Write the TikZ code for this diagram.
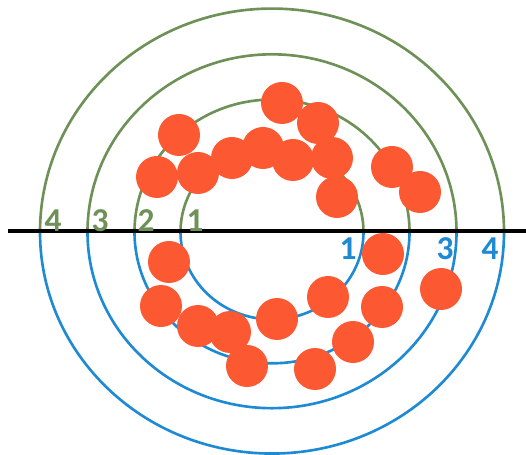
\documentclass[tikz,border=0pt]{standalone}
\usepackage{xcolor}
\usepackage{fontspec}
\usepackage{tikz}
\setsansfont{Carlito}
\definecolor{ringgreen}{HTML}{6E9157}
\definecolor{ringblue}{HTML}{1F8AD4}
\definecolor{dotred}{HTML}{FC5832}
\usetikzlibrary{positioning}

\begin{document}
\begin{tikzpicture}[x=0.02cm,y=0.02cm,
  ring/.style={line width=1.5pt},
  dot/.style={circle,fill=dotred,minimum size=0.84cm,inner sep=0pt},
  greenlabel/.style={font=\sffamily\bfseries\fontsize{19}{21}\selectfont,text=ringgreen},
  bluelabel/.style={font=\sffamily\bfseries\fontsize{19}{21}\selectfont,text=ringblue}]
\useasboundingbox (0,0) rectangle (526,455);
\coordinate (c) at (272,223);
% upper halves
\begin{scope}
\clip (0,223) rectangle (526,455);
\foreach \r in {91.5,137.5,184.5,232}
  \draw[ring,ringgreen] (c) ellipse [x radius=\r, y radius=0.963*\r];
\end{scope}
% lower halves
\begin{scope}
\clip (0,0) rectangle (526,223);
\foreach \r in {91.5,137.5,184.5,232}
  \draw[ring,ringblue] (c) ellipse [x radius=\r, y radius=0.955*\r];
\end{scope}
\draw[line width=1.9pt] (8,224) -- (526,224);
% shots
\foreach \x/\y [count=\i] in {282/352,318/332,179/320,157/278,198/282,232/297,263/307,293/295,
  332/297,337/258,392/288,420/263,169/193,161/149,198/129,230/123,247/89,277/136,
  328/158,383/201,441/166,382/148,353/113,315/86}
  \node[dot] (shot\i) at (\x,\y) {};
% ring numbers
\node[greenlabel] (g4) at (53,234) {4};
\node[greenlabel] (g3) at (100,234) {3};
\node[greenlabel] (g2) at (146,234) {2};
\node[greenlabel] (g1) at (195,234) {1};
\node[bluelabel] (b1) at (348,206) {1};
\node[bluelabel] (b3) at (445,206) {3};
\node[bluelabel] (b4) at (490,206) {4};
\end{tikzpicture}
\end{document}
